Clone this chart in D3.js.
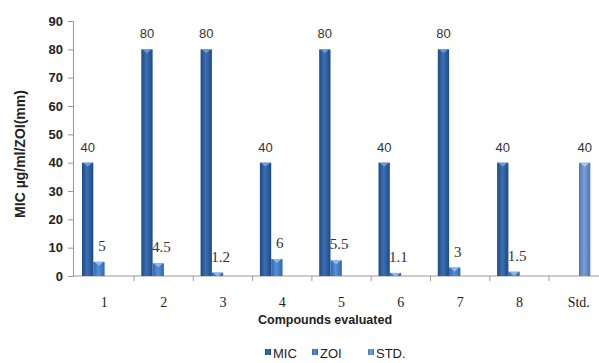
<!DOCTYPE html>
<html>
<head>
<meta charset="utf-8">
<script src="https://cdn.jsdelivr.net/npm/d3@7"></script>
<style>
  html, body { margin: 0; padding: 0; background: #fff; }
  svg { display: block; }
</style>
</head>
<body>
<svg id="chart" width="599" height="363"></svg>
<script>
// Compounds on the x axis
const categories = ["1", "2", "3", "4", "5", "6", "7", "8", "Std."];
// MIC (µg/ml), zone of inhibition (mm) and the standard drug
const micValues = [40, 80, 80, 40, 80, 40, 80, 40, null];
const zoiValues = [5, 4.5, 1.2, 6, 5.5, 1.1, 3, 1.5, null];
const stdValues = [null, null, null, null, null, null, null, null, 40];
const seriesNames = ["MIC", "ZOI", "STD."];
const yTicks = [0, 10, 20, 30, 40, 50, 60, 70, 80, 90];

const seriesValues = [micValues, zoiValues, stdValues];
const colors = {
  "MIC":  { edge: "#1d4a86", mid: "#3b6fb3", cap: "#6b9ad8" },
  "ZOI":  { edge: "#2f66ad", mid: "#5590d8", cap: "#8cb8ee" },
  "STD.": { edge: "#4c75b4", mid: "#7aa0d8", cap: "#a9c4ec" }
};

const svg = d3.select("#chart");

const x = d3.scaleBand().domain(categories).range([74.7, 608.4]).paddingInner(0).paddingOuter(0);
const xs = d3.scaleBand().domain(seriesNames).range([7.3, 41.2]);
const y = d3.scaleLinear().domain([0, 90]).range([276, 21]);

// Horizontal gradients give the bars their rounded look
const defs = svg.append("defs");
seriesNames.forEach((s, i) => {
  const g = defs.append("linearGradient").attr("id", "grad" + i)
    .attr("x1", "0%").attr("x2", "100%").attr("y1", "0%").attr("y2", "0%");
  g.append("stop").attr("offset", "0%").attr("stop-color", colors[s].edge);
  g.append("stop").attr("offset", "45%").attr("stop-color", colors[s].mid);
  g.append("stop").attr("offset", "100%").attr("stop-color", colors[s].edge);
});

// Y axis
const yAxis = svg.append("g").attr("transform", "translate(73,0)")
  .call(d3.axisLeft(y).tickValues(yTicks).tickSize(5).tickPadding(5));
yAxis.select(".domain").attr("stroke", "#999");
yAxis.selectAll(".tick line").attr("stroke", "#999");
yAxis.selectAll(".tick text")
  .attr("font-family", "'Liberation Sans', Arial, sans-serif")
  .attr("font-weight", "bold").attr("font-size", 13).attr("fill", "#222");

// X axis with ticks on category boundaries
const xAxisG = svg.append("g").attr("transform", "translate(0,276)");
xAxisG.append("line").attr("x1", 73).attr("x2", 608.4).attr("y1", 0).attr("y2", 0).attr("stroke", "#999");
xAxisG.selectAll("line.tk").data(categories.slice(1)).join("line").attr("class", "tk")
  .attr("x1", d => x(d)).attr("x2", d => x(d)).attr("y1", 0).attr("y2", 5).attr("stroke", "#999");
xAxisG.selectAll("text").data(categories).join("text")
  .attr("x", d => x(d) + x.bandwidth() / 2).attr("y", 31)
  .attr("text-anchor", "middle")
  .attr("font-family", "'Liberation Serif', 'Times New Roman', serif")
  .attr("font-size", 14).attr("fill", "#222").text(d => d);

// Bars
seriesNames.forEach((s, si) => {
  const vals = seriesValues[si];
  const data = categories.map((c, i) => ({ c, v: vals[i] })).filter(d => d.v != null);
  const g = svg.append("g");
  g.selectAll("rect").data(data).join("rect")
    .attr("x", d => x(d.c) + xs(s))
    .attr("y", d => y(d.v))
    .attr("width", xs.bandwidth())
    .attr("height", d => y(0) - y(d.v))
    .attr("fill", `url(#grad${si})`);
  // bevelled cap on top of each bar
  g.selectAll("path").data(data).join("path")
    .attr("d", d => {
      const x0 = x(d.c) + xs(s), w = xs.bandwidth(), t = y(d.v);
      return `M${x0 + 1},${t} L${x0 + w - 1},${t} L${x0 + w / 2},${t + 4} Z`;
    })
    .attr("fill", colors[s].cap);
  // value labels
  g.selectAll("text").data(data).join("text")
    .attr("x", d => x(d.c) + xs(s) + xs.bandwidth() / 2 + (s === "ZOI" ? 3 : 0))
    .attr("y", d => y(d.v) - 11)
    .attr("text-anchor", "middle")
    .attr("font-family", s === "ZOI" ? "'Liberation Serif', 'Times New Roman', serif" : "'Liberation Sans', Arial, sans-serif")
    .attr("font-size", s === "ZOI" ? 15 : 13)
    .attr("fill", "#333")
    .text(d => d.v);
});

// Axis titles
svg.append("text")
  .attr("transform", "translate(25,154) rotate(-90)")
  .attr("text-anchor", "middle")
  .attr("font-family", "'Liberation Sans', Arial, sans-serif")
  .attr("font-weight", "bold").attr("font-size", 14).attr("fill", "#222")
  .text("MIC µg/ml/ZOI(mm)");
svg.append("text")
  .attr("x", 325).attr("y", 324)
  .attr("text-anchor", "middle")
  .attr("font-family", "'Liberation Sans', Arial, sans-serif")
  .attr("font-weight", "bold").attr("font-size", 12.5).attr("fill", "#222")
  .text("Compounds evaluated");

// Legend
const legendX = [265, 312, 368];
const legend = svg.append("g");
seriesNames.forEach((s, si) => {
  legend.append("rect").attr("x", legendX[si]).attr("y", 349).attr("width", 6).attr("height", 6)
    .attr("fill", `url(#grad${si})`);
  legend.append("text").attr("x", legendX[si] + 8).attr("y", 358)
    .attr("font-family", "'Liberation Sans', Arial, sans-serif")
    .attr("font-size", 13).attr("fill", "#222").text(s);
});
</script>
</body>
</html>
